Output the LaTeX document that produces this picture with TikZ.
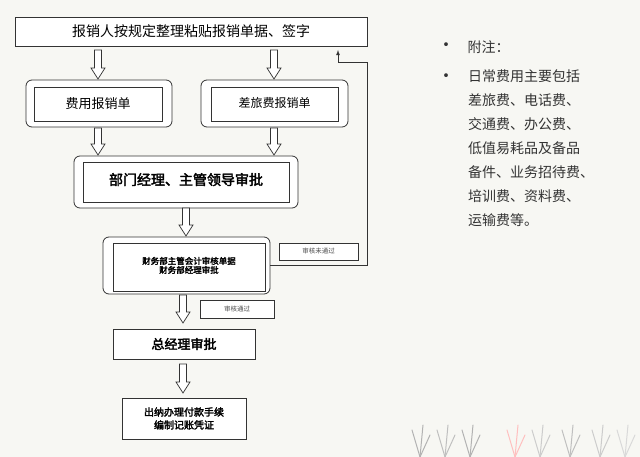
\documentclass[tikz,border=0pt]{standalone}
\usepackage{fontspec}
\setmainfont{Noto Sans CJK SC}[BoldFont=Noto Sans CJK SC,BoldFeatures={FakeBold=2.5}]
\usetikzlibrary{calc}
\definecolor{bg}{HTML}{F7F7F3}
\definecolor{txt}{HTML}{333333}
\tikzset{
  box/.style={draw=black!80,fill=white,line width=0.8pt,inner sep=0pt},
  outer/.style={draw=black!80,fill=white,line width=0.8pt,rounded corners=6pt},
  lab/.style={draw=black!80,fill=white,line width=0.6pt,font=\fontsize{6.5}{7}\selectfont,text=black!70},
  hol/.style={draw=black!80,fill=white,line width=0.7pt},
}
\newcommand\harrow[3]{% x, ytop, ybottom
  \draw[hol] (#1-3.5,#2) -- (#1+3.5,#2) -- (#1+3.5,#3-11) -- (#1+7,#3-11) -- (#1,#3) -- (#1-7,#3-11) -- (#1-3.5,#3-11) -- cycle;}
\begin{document}
\begin{tikzpicture}[x=1pt,y=-1pt]
\fill[bg] (0,0) rectangle (640,457);
\useasboundingbox (0,0) rectangle (640,457);
\node[box,minimum width=352,minimum height=29,font=\fontsize{14}{16}\selectfont] (top) at (191,31.5) {报销人按规定整理粘贴报销单据、签字};
\draw[outer] (26,80) rectangle (172,127);
\node[box,minimum width=128,minimum height=34,font=\fontsize{13}{15}\selectfont] (fee) at (98,104) {费用报销单};
\draw[outer] (201,80) rectangle (348,127);
\node[box,minimum width=127,minimum height=34,font=\fontsize{12}{14}\selectfont] (trav) at (274.5,104) {\raisebox{3pt}{差旅费报销单}};
\draw[outer] (74,156) rectangle (298,208);
\node[box,minimum width=206,minimum height=40,font=\bfseries\fontsize{14}{16}\selectfont] (dept) at (186,182) {\raisebox{6pt}{部门经理、主管领导审批}};
\draw[outer] (103,237) rectangle (270,294);
\node[box,minimum width=152,minimum height=48,align=center,font=\bfseries\fontsize{8.5}{12}\selectfont] (fin) at (189,267) {\raisebox{10pt}{\begin{tabular}{c}财务部主管会计审核单据\\[-3pt]财务部经理审批\end{tabular}}};
\node[lab,minimum width=79,minimum height=17] (no) at (318.5,251.5) {审核未通过};
\node[lab,minimum width=74,minimum height=18] (yes) at (237,309) {审核通过};
\node[box,minimum width=142,minimum height=30,font=\bfseries\fontsize{13}{15}\selectfont] (gm) at (184,344) {总经理审批};
\node[box,minimum width=124,minimum height=41,align=center,font=\bfseries\fontsize{10}{13}\selectfont] (cash) at (184,418.5) {出纳办理付款手续\\编制记账凭证};
\harrow{98}{50}{79}
\harrow{274}{50}{79}
\harrow{98}{128}{155}
\harrow{274}{128}{155}
\harrow{186}{208}{236}
\harrow{183}{295}{323}
\harrow{183}{364}{393}
\coordinate (fb1) at (367,265);
\coordinate (fb2) at (367,62);
\coordinate (fb3) at (338,62);
\draw[line width=0.8pt,black!80,-latex] (270,265) -- (fb1) -- (fb2) -- (fb3) -- (338,50);
\begin{scope}[text=txt]
\node[anchor=west,font=\fontsize{18}{18}\selectfont] (b1) at (434,47) {•};
\node[anchor=west,font=\fontsize{14}{16}\selectfont] (n1) at (464,47) {附注：};
\node[anchor=west,font=\fontsize{18}{18}\selectfont] (b2) at (434,78) {•};
\node[anchor=north west,align=left,inner sep=0pt,font=\fontsize{14}{24}\selectfont] (n2) at (468,69) {日常费用主要包括\\差旅费、电话费、\\交通费、办公费、\\低值易耗品及备品\\备件、业务招待费、\\培训费、资料费、\\运输费等。};
\end{scope}
\begin{scope}[line width=1pt,line cap=round]
\foreach \x/\c in {420/black!30,445/black!25,470/black!30,515/red!25,540/black!20,570/black!25,600/black!20,625/black!15}{
  \draw[\c] (\x,457) -- (\x-8,430);
  \draw[\c] (\x,457) -- (\x+3,425);
  \draw[\c] (\x,457) -- (\x+10,435);
}
\end{scope}
\end{tikzpicture}
\end{document}
